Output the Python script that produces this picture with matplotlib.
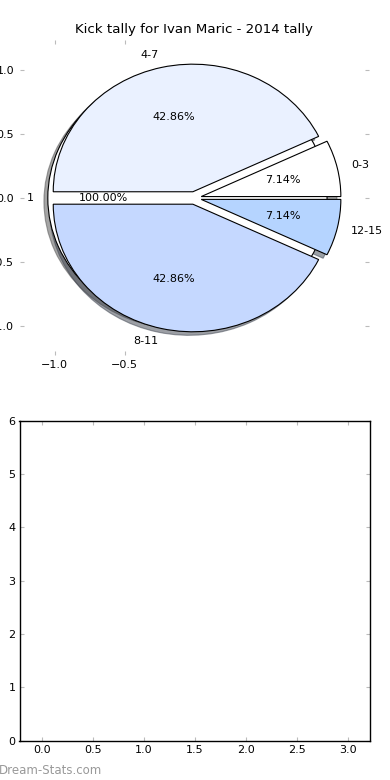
import numpy as np
import matplotlib
matplotlib.use("Agg")
import matplotlib.pyplot as plt

plt.rcParams['font.size'] = 8

# kick tally buckets
labels = ['0-3', '4-7', '8-11', '12-15']
kicks = [1, 6, 6, 1]
colors = ['#ffffff', '#eaf1ff', '#c5d8ff', '#b5d4ff']
explode = [0.05, 0.05, 0.05, 0.05]

# leftover single-wedge pie
total_labels = ['1']
total = [1]

yticks_top = [-1.0, -0.5, 0.0, 0.5, 1.0]
xticks_top = [-1.0, -0.5]
xticks_bot = [0.0, 0.5, 1.0, 1.5, 2.0, 2.5, 3.0]
yticks_bot = [0, 1, 2, 3, 4, 5, 6]

fig = plt.figure(figsize=(3.9, 7.8), dpi=100)

ax1 = fig.add_axes([0.051, 0.545, 0.895, 0.404])
wp = {'edgecolor': 'black', 'linewidth': 0.8}
ax1.pie(total, labels=total_labels, colors=['white'], explode=[0.05],
        autopct='%.2f%%', shadow=True, wedgeprops=wp, frame=True)
ax1.pie(kicks, labels=labels, colors=colors, explode=explode,
        autopct='%.2f%%', shadow=True, wedgeprops=wp, frame=True)
ax1.set_aspect('auto')
ax1.set_xlim(-1.25, 1.25)
ax1.set_ylim(-1.23, 1.24)
ax1.set_xticks(xticks_top)
ax1.set_yticks(yticks_top)
ax1.set_xticklabels(['\u22121.0', '\u22120.5'])
ax1.set_yticklabels(['\u22121.0', '\u22120.5', '0.0', '0.5', '1.0'])
for s in ax1.spines.values():
    s.set_visible(False)
ax1.tick_params(direction='in', length=3, color='#bbbbbb', pad=4,
                top=True, right=True, labelsize=8)
ax1.set_title('Kick tally for Ivan Maric - 2014 tally', fontsize=9.6, pad=5)

ax2 = fig.add_axes([0.05, 0.0504, 0.899, 0.41])
ax2.set_xlim(-0.22, 3.22)
ax2.set_ylim(0, 6)
ax2.set_xticks(xticks_bot)
ax2.set_yticks(yticks_bot)
ax2.tick_params(direction='in', length=3, color='#bbbbbb', pad=3,
                top=True, right=True, labelsize=8)
for s in ax2.spines.values():
    s.set_linewidth(1)
    s.set_color('black')

fig.text(-0.003, 0.0128, 'Dream-Stats.com', color='#999999', fontsize=8.5,
         va='center', ha='left')

fig.savefig('out.png', dpi=100)
